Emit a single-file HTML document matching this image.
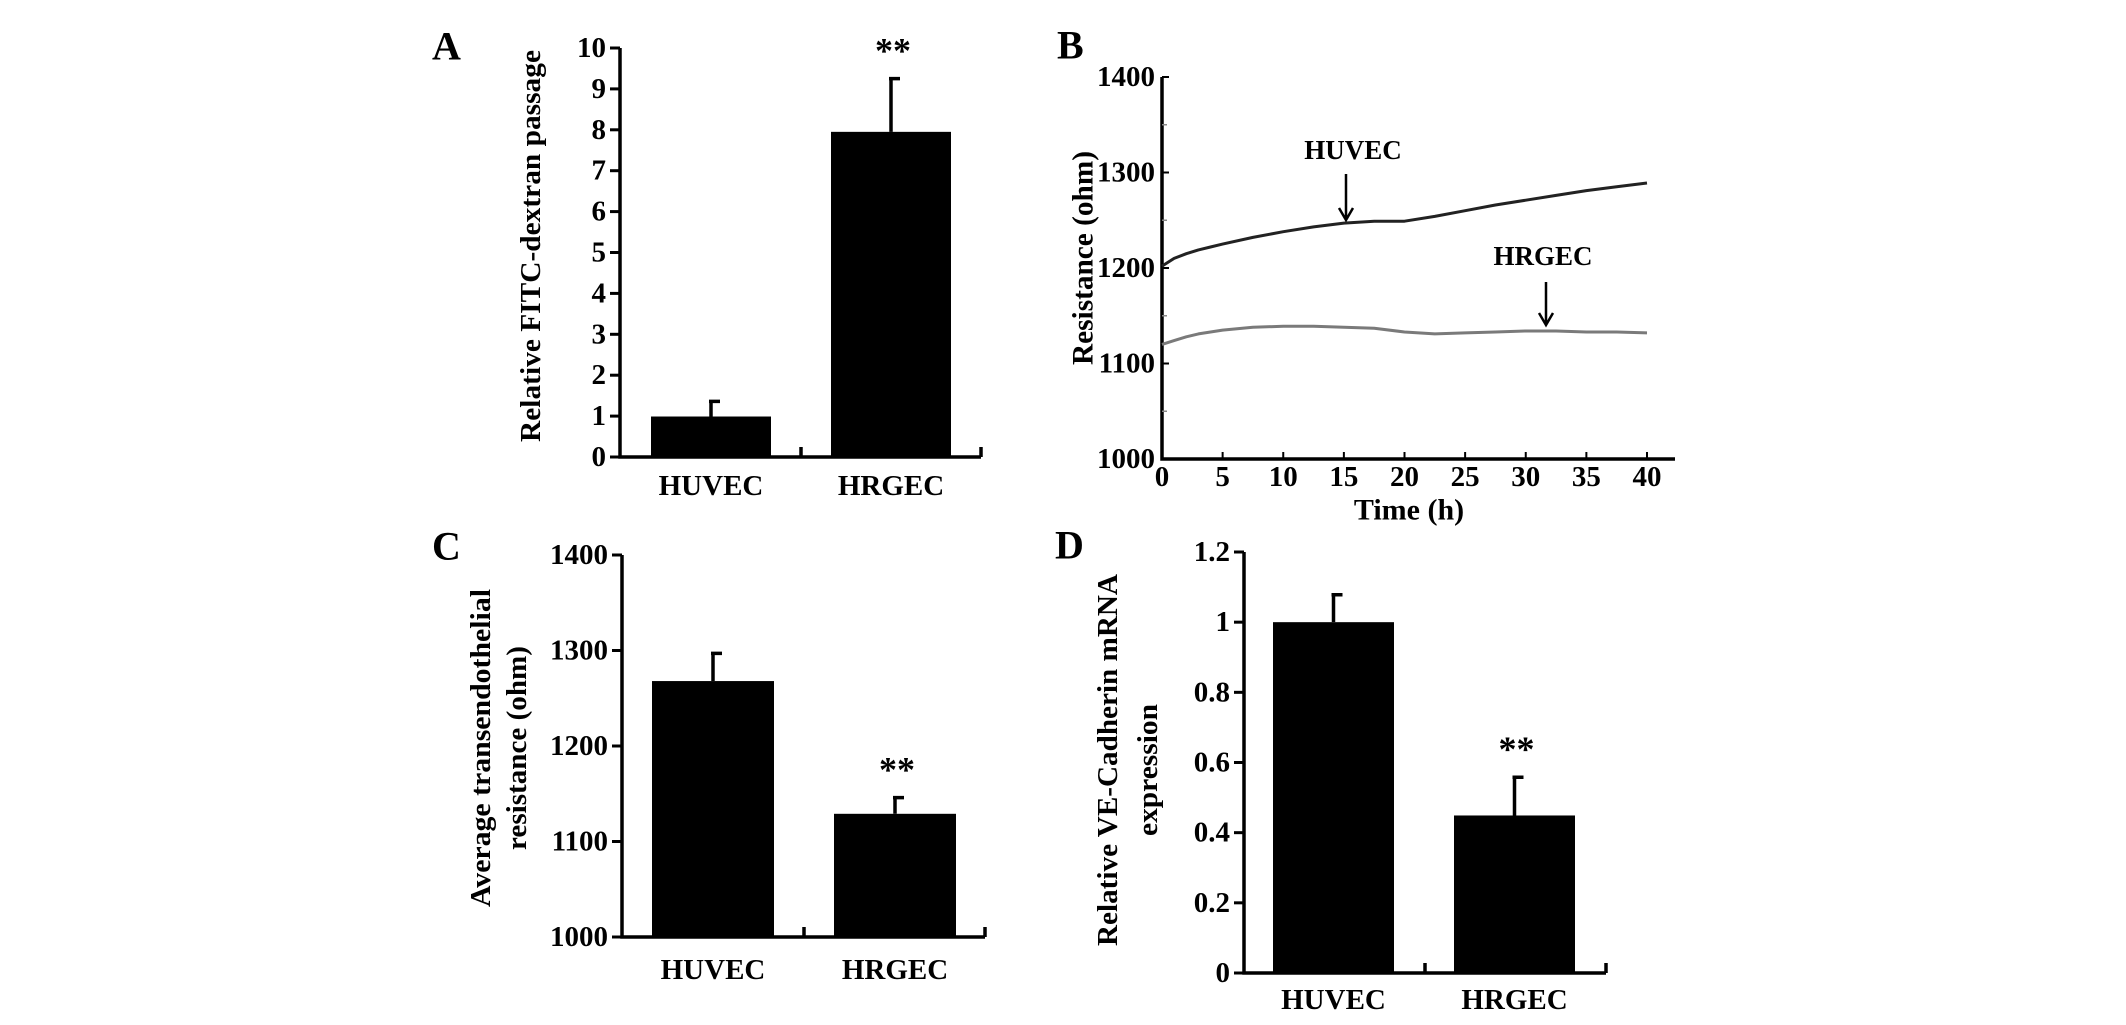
<!DOCTYPE html>
<html><head><meta charset="utf-8"><style>
html,body{margin:0;padding:0;background:#fff}
svg{display:block}
text{font-family:"Liberation Serif",serif;font-weight:bold;fill:#000}
</style></head><body>
<svg id="fig" width="2126" height="1025" viewBox="0 0 2126 1025" xmlns="http://www.w3.org/2000/svg"></svg>
<script>
// Panel A data
const aCategories = ["HUVEC", "HRGEC"];
const aValues = [0.99, 7.95];
const aErrors = [0.37, 1.30];
const aTicks = [0,1,2,3,4,5,6,7,8,9,10];
// Panel B data
const bTimes = [0,1,2,3,4,5,7.5,10,12.5,15,17.5,20,22.5,25,27.5,30,32.5,35,37.5,40];
const bHuvec = [1202,1210,1215,1219,1222,1225,1232,1238,1243,1247,1249,1249,1254,1260,1266,1271,1276,1281,1285,1289];
const bHrgec = [1120,1124,1128,1131,1133,1135,1138,1139,1139,1138,1137,1133,1131,1132,1133,1134,1134,1133,1133,1132];
const bYTicks = [1000,1100,1200,1300,1400];
const bXTicks = [0,5,10,15,20,25,30,35,40];
// Panel C data
const cCategories = ["HUVEC", "HRGEC"];
const cValues = [1268, 1129];
const cErrors = [29, 17];
const cTicks = [1000,1100,1200,1300,1400];
// Panel D data
const dCategories = ["HUVEC", "HRGEC"];
const dValues = [1.0, 0.449];
const dErrors = [0.078, 0.109];
const dTicks = ["0","0.2","0.4","0.6","0.8","1","1.2"];

const svg = document.getElementById('fig');
const NS = 'http://www.w3.org/2000/svg';
function mk(tag, attrs, parent){
  const e = document.createElementNS(NS, tag);
  for (const k in attrs) e.setAttribute(k, attrs[k]);
  (parent||svg).appendChild(e);
  return e;
}
function txt(s, x, y, size, anchor, parent){
  const t = mk('text', {x:x, y:y, 'font-size':size, 'text-anchor':anchor||'middle', 'dominant-baseline':'central'}, parent);
  t.textContent = s;
  return t;
}

function barPanel(p){
  const g = mk('g', {});
  
  
  const ys = v => p.y0 - (v - p.vmin) / (p.vmax - p.vmin) * (p.y0 - p.yTop);
  const L = txt(p.letter, p.letterX, p.letterY, 40, 'start', g);
  
  
  const ax = mk('path', {d:`M${p.ax} ${p.yTop} L${p.ax} ${p.y0} L${p.xEnd} ${p.y0} M${p.mid} ${p.y0} L${p.mid} ${p.y0-10} M${p.xEnd} ${p.y0} L${p.xEnd} ${p.y0-10}`, stroke:'#000', 'stroke-width':3.5, fill:'none'}, g);
  
  
  p.ticks.forEach(t => {
    const v = parseFloat(t);
    const y = ys(v);
    const tk = mk('line', {x1:p.ax-10, x2:p.ax, y1:y, y2:y, stroke:'#000', 'stroke-width':3}, g);
    
    
    const tl = txt(String(t), p.ax-14, y, 29, 'end', g);
    
    
  });
  p.cats.forEach((c, i) => {
    const x1 = p.barX[i], w = p.barW;
    const top = ys(p.values[i]);
    const r = mk('rect', {x:x1, y:top, width:w, height:p.y0-top, fill:'#000'}, g);
    
    
    const cx = x1 + w/2;
    const et = ys(p.values[i] + p.errors[i]);
    const e = mk('path', {d:`M${cx} ${top} L${cx} ${et} M${cx-2} ${et} L${cx+9} ${et}`, stroke:'#000', 'stroke-width':3.5, fill:'none'}, g);
    
    
    const cl = txt(c, cx, p.labelY, 29, 'middle', g);
    
    
    if (p.sig[i]) {
      const s = txt('**', cx + 2, et - 28, 36, 'middle', g);
      
      
    }
  });
  p.titles.forEach(tt => {
    const t = mk('text', {x:0, y:0, 'font-size':29, 'text-anchor':'middle', 'dominant-baseline':'central', transform:`translate(${tt.x},${tt.y}) rotate(-90)`, textLength:tt.len, lengthAdjust:'spacingAndGlyphs'}, g);
    t.textContent = tt.s;
    
    
  });
}

barPanel({name:'panel-a', letter:'A', letterX:432, letterY:46, ax:620, yTop:48, y0:457, xEnd:981, mid:801,
  vmin:0, vmax:10, ticks:aTicks, cats:aCategories, values:aValues, errors:aErrors, barX:[651,831], barW:120,
  labelY:486, sig:[false,true], titles:[{s:'Relative FITC-dextran passage', x:531, y:246, len:392}]});
barPanel({name:'panel-c', letter:'C', letterX:432, letterY:546, ax:622, yTop:555, y0:937, xEnd:985, mid:804,
  vmin:1000, vmax:1400, ticks:cTicks, cats:cCategories, values:cValues, errors:cErrors, barX:[652,834], barW:122,
  labelY:970, sig:[false,true], titles:[{s:'Average transendothelial', x:481, y:748, len:318},{s:'resistance (ohm)', x:517, y:748, len:204}]});
barPanel({name:'panel-d', letter:'D', letterX:1055, letterY:545, ax:1244, yTop:552, y0:973, xEnd:1606, mid:1425,
  vmin:0, vmax:1.2, ticks:dTicks, cats:dCategories, values:dValues, errors:dErrors, barX:[1273,1454], barW:121,
  labelY:1000, sig:[false,true], titles:[{s:'Relative VE-Cadherin mRNA', x:1108, y:760, len:372},{s:'expression', x:1148, y:770, len:132}]});

// Panel B
(function(){
  const g = mk('g', {});
  
  
  const ax = 1162, y0 = 459, yTop = 77, xEnd = 1675, x40 = 1647;
  const xs = t => ax + t / 40 * (x40 - ax);
  const ys = v => y0 - (v - 1000) / 400 * (y0 - yTop);
  const L = txt('B', 1057, 45, 40, 'start', g);
  
  
  const a = mk('path', {d:`M${ax} ${yTop} L${ax} ${y0} L${xEnd} ${y0}`, stroke:'#000', 'stroke-width':3.5, fill:'none'}, g);
  
  
  bYTicks.forEach((v, i) => {
    const y = ys(v);
    const tk = mk('line', {x1:ax, x2:ax+7, y1:y, y2:y, stroke:'#000', 'stroke-width':2}, g);
    
    
    if (i < bYTicks.length - 1) {
      const m = mk('line', {x1:ax, x2:ax+5, y1:ys(v+50), y2:ys(v+50), stroke:'#888', 'stroke-width':1.5}, g);
      
      
    }
    const tl = txt(String(v), 1155, y, 29, 'end', g);
    
    
  });
  bXTicks.forEach(t => {
    const x = xs(t);
    const tk = mk('line', {x1:x, x2:x, y1:y0, y2:y0-7, stroke:'#000', 'stroke-width':2}, g);
    
    
    const tl = txt(String(t), x, 477, 29, 'middle', g);
    
    
  });
  const xt = txt('Time (h)', 1409, 510, 30, 'middle', g);
  
  
  const yt = mk('text', {x:0, y:0, 'font-size':30, 'text-anchor':'middle', 'dominant-baseline':'central', transform:'translate(1083,258) rotate(-90)', textLength:214, lengthAdjust:'spacingAndGlyphs'}, g);
  yt.textContent = 'Resistance (ohm)';
  
  
  const line = (vals, color, name) => {
    const d = bTimes.map((t, i) => (i ? 'L' : 'M') + xs(t).toFixed(1) + ' ' + ys(vals[i]).toFixed(1)).join(' ');
    const p = mk('path', {d:d, stroke:color, 'stroke-width':3, fill:'none', 'stroke-linejoin':'round'}, g);
    
    
  };
  line(bHuvec, '#222', 'line-huvec');
  line(bHrgec, '#7a7a7a', 'line-hrgec');
  const ann = (label, lx, ly, axX, a1, a2, name) => {
    const t = txt(label, lx, ly, 27, 'middle', g);
    
    
    const ar = mk('path', {d:`M${axX} ${a1} L${axX} ${a2} M${axX-7} ${a2-12} L${axX} ${a2} L${axX+7} ${a2-12}`, stroke:'#000', 'stroke-width':2.5, fill:'none'}, g);
    
    
  };
  ann('HUVEC', 1353, 150, 1346, 174, 220, 'huvec-annotation');
  ann('HRGEC', 1543, 256, 1546, 282, 325, 'hrgec-annotation');
})();
</script>
</body></html>
